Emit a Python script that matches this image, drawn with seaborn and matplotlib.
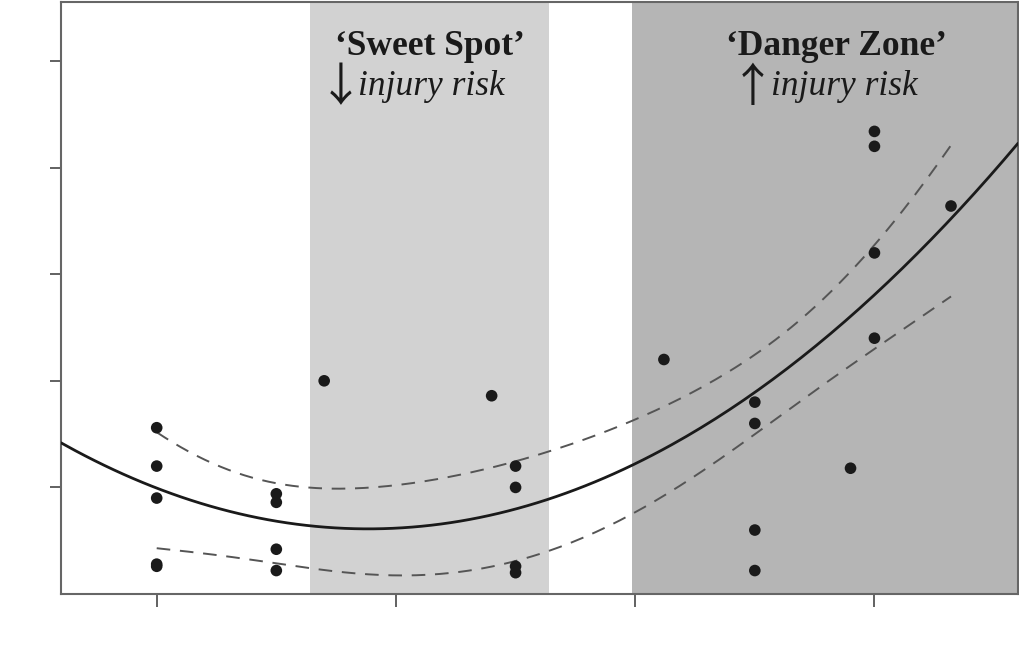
import numpy as np
import pandas as pd
import matplotlib
matplotlib.use("Agg")
import matplotlib.pyplot as plt
import seaborn as sns

# ---- data ----
acwr = [0.5, 0.5, 0.5, 0.5, 0.5,
        0.75, 0.75, 0.75, 0.75,
        0.85,
        1.2,
        1.25, 1.25, 1.25, 1.25,
        1.56,
        1.75, 1.75, 1.75, 1.75,
        1.95,
        2.0, 2.0, 2.0, 2.0,
        2.16]
injury = [7.8, 6.0, 4.5, 1.4, 1.3,
          4.7, 4.3, 2.1, 1.1,
          10.0,
          9.3,
          6.0, 5.0, 1.3, 1.0,
          11.0,
          9.0, 8.0, 3.0, 1.1,
          5.9,
          12.0, 16.0, 21.0, 21.7,
          18.2]
sweet_zone = [0.82, 1.32]
danger_zone = [1.494, 2.30]
xticks = [0.5, 1.0, 1.5, 2.0]
yticks = [0, 5, 10, 15, 20, 25]

df = pd.DataFrame({"acwr": acwr, "injury": injury})

sns.set_theme(style="white")
plt.rcParams["font.family"] = ["Liberation Serif", "DejaVu Serif"]

fig = plt.figure(figsize=(10.2, 6.56), dpi=100)
ax = fig.add_axes([61/1020, 62/656, (1018-61)/1020, (594-2)/656])

ax.axvspan(*sweet_zone, color="#d2d2d2", lw=0, zorder=0)
ax.axvspan(*danger_zone, color="#b5b5b5", lw=0, zorder=0)

# quadratic fit and confidence band
x = np.asarray(acwr); y = np.asarray(injury)
X = np.column_stack([np.ones_like(x), x, x**2])
beta, *_ = np.linalg.lstsq(X, y, rcond=None)
resid = y - X @ beta
dof = len(x) - 3
s2 = resid @ resid / dof
cov = s2 * np.linalg.inv(X.T @ X)

xf = np.linspace(0.3, 2.3, 200)
Xf = np.column_stack([np.ones_like(xf), xf, xf**2])
yf = Xf @ beta
xc = np.linspace(x.min(), x.max(), 200)
Xc = np.column_stack([np.ones_like(xc), xc, xc**2])
yc = Xc @ beta
se = np.sqrt(np.einsum("ij,jk,ik->i", Xc, cov, Xc))
t = 1.5
fit_df = pd.DataFrame({"x": xf, "y": yf})
ci_df = pd.DataFrame({"x": np.r_[xc, xc], "y": np.r_[yc + t*se, yc - t*se - 0.2],
                      "b": ["hi"]*len(xc) + ["lo"]*len(xc)})

sns.lineplot(data=fit_df, x="x", y="y", ax=ax, color="#1a1a1a", lw=2.0, zorder=3)
for b in ["hi", "lo"]:
    sns.lineplot(data=ci_df[ci_df.b == b], x="x", y="y", ax=ax, color="#555555",
                 lw=1.4, zorder=3)
    ax.lines[-1].set_dashes([7, 5])
sns.scatterplot(data=df, x="acwr", y="injury", ax=ax, color="#1a1a1a", s=70,
                edgecolor="none", zorder=4)

ax.set_xlim(0.3, 2.3)
ax.set_ylim(0, 27.77)
ax.set_xticks(xticks)
ax.set_yticks(yticks[1:])
ax.set_xticklabels([]); ax.set_yticklabels([])
ax.set_xlabel(""); ax.set_ylabel("")
ax.tick_params(axis="both", which="both", direction="out", length=8, width=1.3,
               color="#555555", bottom=True, left=True)
ax.tick_params(axis="x", length=9)
for sp in ax.spines.values():
    sp.set_color("#666666"); sp.set_linewidth(1.5)

fs = 25.5
arrow_font = ["Noto Sans CJK SC", "DejaVu Sans"]
ax.text(1.07, 25.7, "\u2018Sweet Spot\u2019", ha="center", va="center",
        fontsize=fs, fontweight="bold", color="#1a1a1a")
ax.text(0.885, 23.75, "\u2193", ha="center", va="center", fontsize=33,
        family=arrow_font, color="#1a1a1a")
ax.text(1.075, 23.8, "injury risk", ha="center", va="center",
        fontsize=fs, style="italic", color="#1a1a1a")
ax.text(1.92, 25.7, "\u2018Danger Zone\u2019", ha="center", va="center",
        fontsize=fs, fontweight="bold", color="#1a1a1a")
ax.text(1.746, 23.75, "\u2191", ha="center", va="center", fontsize=33,
        family=arrow_font, color="#1a1a1a")
ax.text(1.938, 23.8, "injury risk", ha="center", va="center",
        fontsize=fs, style="italic", color="#1a1a1a")

fig.savefig("out.png", dpi=100)
